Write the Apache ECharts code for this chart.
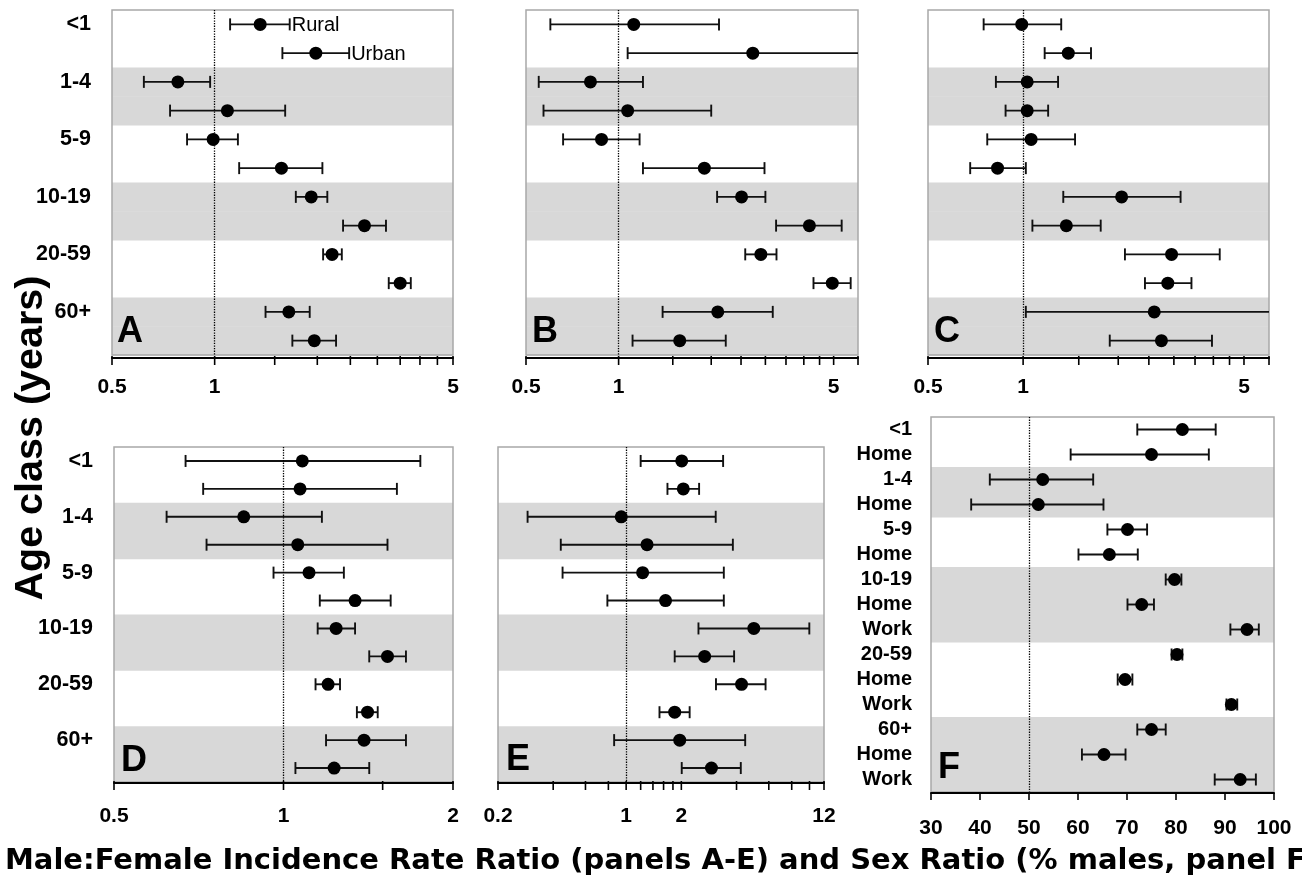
<!DOCTYPE html>
<html>
<head>
<meta charset="utf-8">
<script src="https://cdn.jsdelivr.net/npm/echarts@6/dist/echarts.min.js"></script>
<style>
  html, body { margin: 0; padding: 0; background: #fff; }
  #chart { width: 1302px; height: 883px; }
</style>
</head>
<body>
<div id="chart"></div>
<script>
// ---------------- DATA ----------------
const ageClasses = ['<1', '1-4', '5-9', '10-19', '20-59', '60+'];
const settings = ['Rural', 'Urban'];           // two rows per age class, panels A-E
const rowsF = ['<1', 'Home', '1-4', 'Home', '5-9', 'Home', '10-19', 'Home', 'Work', '20-59', 'Home', 'Work', '60+', 'Home', 'Work'];
const rowsFAge = [0, 0, 1, 1, 2, 2, 3, 3, 3, 4, 4, 4, 5, 5, 5];

// Panel A
const A_est = [1.36, 1.98, 0.78, 1.09, 0.99, 1.57, 1.92, 2.75, 2.21, 3.50, 1.65, 1.96];
const A_lo  = [1.11, 1.58, 0.62, 0.74, 0.83, 1.18, 1.73, 2.38, 2.08, 3.24, 1.41, 1.69];
const A_hi  = [1.66, 2.48, 0.97, 1.61, 1.17, 2.07, 2.14, 3.18, 2.36, 3.76, 1.90, 2.27];
// Panel B
const B_est = [1.12, 2.73, 0.81, 1.07, 0.88, 1.90, 2.51, 4.17, 2.90, 4.95, 2.10, 1.58];
const B_lo  = [0.60, 1.07, 0.55, 0.57, 0.66, 1.20, 2.09, 3.25, 2.58, 4.30, 1.39, 1.11];
const B_hi  = [2.12, 7.00, 1.20, 2.00, 1.17, 2.98, 3.00, 5.31, 3.26, 5.68, 3.17, 2.23];
// Panel C
const C_est = [0.99, 1.39, 1.03, 1.03, 1.06, 0.83, 2.05, 1.37, 2.95, 2.87, 2.60, 2.74];
const C_lo  = [0.75, 1.17, 0.82, 0.88, 0.77, 0.68, 1.34, 1.07, 2.10, 2.43, 1.02, 1.88];
const C_hi  = [1.32, 1.64, 1.29, 1.20, 1.46, 1.02, 3.15, 1.76, 4.19, 3.41, 7.00, 3.96];
// Panel D
const D_est = [1.08, 1.07, 0.85, 1.06, 1.11, 1.34, 1.24, 1.53, 1.20, 1.41, 1.39, 1.23];
const D_lo  = [0.67, 0.72, 0.62, 0.73, 0.96, 1.16, 1.15, 1.42, 1.14, 1.35, 1.19, 1.05];
const D_hi  = [1.75, 1.59, 1.17, 1.53, 1.28, 1.55, 1.34, 1.65, 1.26, 1.47, 1.65, 1.42];
// Panel E
const E_est = [2.01, 2.05, 0.94, 1.30, 1.23, 1.64, 4.97, 2.68, 4.26, 1.84, 1.96, 2.92];
const E_lo  = [1.20, 1.68, 0.29, 0.44, 0.45, 0.79, 2.48, 1.84, 3.09, 1.52, 0.86, 2.01];
const E_hi  = [3.38, 2.50, 3.08, 3.82, 3.41, 3.41, 9.98, 3.88, 5.76, 2.22, 4.46, 4.22];
// Panel F (% males)
const F_est = [81.3, 75.0, 52.8, 51.9, 70.1, 66.4, 79.7, 73.0, 94.5, 80.2, 69.6, 91.3, 75.0, 65.3, 93.1];
const F_lo  = [72.1, 58.5, 42.0, 38.2, 66.0, 60.1, 77.9, 70.1, 91.1, 79.1, 68.1, 90.3, 72.1, 60.8, 87.9];
const F_hi  = [88.1, 86.7, 63.1, 65.2, 74.1, 72.2, 81.1, 75.5, 96.9, 81.3, 71.1, 92.5, 77.9, 69.7, 96.3];

// Axis ticks and tick labels
const ticksA  = [0.5, 1, 1.5, 2, 2.5, 3, 3.5, 4, 4.5, 5];
const labelsA = [0.5, 1, 5];
const ticksBC  = [0.5, 1, 1.5, 2, 2.5, 3, 3.5, 4, 4.5, 5, 6];
const labelsBC = [0.5, 1, 5];
const ticksD  = [0.5, 1, 1.5, 2];
const labelsD = [0.5, 1, 2];
const ticksE  = [0.2, 0.4, 0.6, 0.8, 1, 1.2, 1.4, 1.6, 1.8, 2, 4, 6, 8, 10, 12];
const labelsE = [0.2, 1, 2, 12];

const yTitle = 'Age class (years)';
const xTitle = 'Male:Female Incidence Rate Ratio (panels A-E) and Sex Ratio (% males, panel F)';

// ---------------- LAYOUT ----------------
const FONT = '"Liberation Sans", Arial, Helvetica, sans-serif';
const rowsAE = [];
ageClasses.forEach((a, i) => settings.forEach((s) => rowsAE.push(i)));

const panels = [
  { key: 'A', grid: { left: 112, top: 10, width: 341, height: 345 }, type: 'log', min: 0.5, max: 5,
    est: A_est, lo: A_lo, hi: A_hi, ticks: ticksA, labels: labelsA, rowLabels: true, ref: 1,
    axisOffset: 3, labelDist: 29, letter: [117, 332], rowAge: rowsAE },
  { key: 'B', grid: { left: 526, top: 10, width: 332, height: 345 }, type: 'log', min: 0.5, max: 6,
    est: B_est, lo: B_lo, hi: B_hi, ticks: ticksBC, labels: labelsBC, rowLabels: false, ref: 1,
    axisOffset: 3, labelDist: 29, letter: [532, 332], rowAge: rowsAE },
  { key: 'C', grid: { left: 928, top: 10, width: 341, height: 345 }, type: 'log', min: 0.5, max: 6,
    est: C_est, lo: C_lo, hi: C_hi, ticks: ticksBC, labels: labelsBC, rowLabels: false, ref: 1,
    axisOffset: 3, labelDist: 29, letter: [934, 332], rowAge: rowsAE },
  { key: 'D', grid: { left: 114, top: 447, width: 339, height: 335 }, type: 'log', min: 0.5, max: 2,
    est: D_est, lo: D_lo, hi: D_hi, ticks: ticksD, labels: labelsD, rowLabels: true, ref: 1,
    axisOffset: 1, labelDist: 33, letter: [121, 761], rowAge: rowsAE },
  { key: 'E', grid: { left: 498, top: 447, width: 326, height: 335 }, type: 'log', min: 0.2, max: 12,
    est: E_est, lo: E_lo, hi: E_hi, ticks: ticksE, labels: labelsE, rowLabels: false, ref: 1,
    axisOffset: 1, labelDist: 33, letter: [506, 760], rowAge: rowsAE },
  { key: 'F', grid: { left: 931, top: 417, width: 343, height: 375 }, type: 'value', min: 30, max: 100,
    est: F_est, lo: F_lo, hi: F_hi, rowLabels: true, ref: 50,
    axisOffset: 1, labelDist: 36, letter: [938, 768], rowAge: rowsFAge, rowNames: rowsF }
];

const BAND = '#d8d8d8';
const INK = '#111';

function errRender(params, api) {
  const r = api.value(0);
  const lo = api.coord([api.value(1), r]);
  const hi = api.coord([api.value(2), r]);
  const h = 6;
  const st = { stroke: INK, lineWidth: 1.9 };
  return {
    type: 'group',
    children: [
      { type: 'line', shape: { x1: lo[0], y1: lo[1], x2: hi[0], y2: hi[1] }, style: st },
      { type: 'line', shape: { x1: lo[0], y1: lo[1] - h, x2: lo[0], y2: lo[1] + h }, style: st },
      { type: 'line', shape: { x1: hi[0], y1: hi[1] - h, x2: hi[0], y2: hi[1] + h }, style: st }
    ]
  };
}

const grids = [], xAxes = [], yAxes = [], series = [], graphics = [];

panels.forEach((p, gi) => {
  const nRows = p.rowAge.length;
  const rowIds = p.rowAge.map((_, i) => String(i));
  grids.push(Object.assign({ show: true, borderColor: '#a8a8a8', borderWidth: 1.5, backgroundColor: 'transparent' }, p.grid));

  const xa = {
    type: p.type, gridIndex: gi, min: p.min, max: p.max, offset: p.axisOffset,
    axisLine: { show: true, onZero: false, lineStyle: { color: '#000', width: 2 } },
    splitLine: { show: false }
  };
  if (p.type === 'log') {
    xa.logBase = 10;
    xa.axisTick = { show: false };
    xa.axisLabel = { show: false };
  } else {
    xa.interval = 10;
    xa.axisTick = { show: true, length: 7, lineStyle: { color: '#000', width: 1.6 } };
    xa.axisLabel = { show: true, fontFamily: FONT, fontWeight: 'bold', fontSize: 21, color: '#000', margin: 25 };
  }
  xAxes.push(xa);

  yAxes.push({
    type: 'category', gridIndex: gi, inverse: true, data: rowIds, boundaryGap: true,
    axisLine: { show: false }, axisTick: { show: false }, splitLine: { show: false },
    axisLabel: {
      show: p.rowLabels, interval: 0, fontFamily: FONT, fontWeight: 'bold',
      fontSize: p.key === 'F' ? 20 : 21.5, color: '#000',
      margin: p.key === 'F' ? 19 : 21,
      formatter: function (v, idx) {
        if (p.rowNames) return p.rowNames[idx];
        return idx % 2 === 0 ? ageClasses[p.rowAge[idx]] : '';
      }
    }
  });

  // shaded bands (alternate age classes)
  series.push({
    type: 'custom', xAxisIndex: gi, yAxisIndex: gi, z: -1, silent: true,
    data: p.rowAge.map((a, i) => [p.min, i]),
    encode: { x: 0, y: 1 },
    renderItem: function (params, api) {
      const i = api.value(1);
      if (p.rowAge[i] % 2 === 0) return null;
      const cs = params.coordSys;
      const hgt = cs.height / nRows;
      const yc = api.coord([p.min, i])[1];
      return { type: 'rect', shape: { x: cs.x, y: yc - hgt / 2, width: cs.width, height: hgt + 0.5 },
               style: { fill: BAND } };
    }
  });

  // error bars
  series.push({
    type: 'custom', xAxisIndex: gi, yAxisIndex: gi, clip: true, silent: true, z: 3,
    data: p.est.map((_, i) => [i, p.lo[i], p.hi[i]]),
    encode: { y: 0, x: [1, 2] },
    renderItem: errRender
  });

  // point estimates + reference line
  series.push({
    type: 'scatter', xAxisIndex: gi, yAxisIndex: gi, symbol: 'circle', symbolSize: 13, z: 4,
    itemStyle: { color: '#000', opacity: 1 }, silent: true,
    data: p.est.map((v, i) => [v, i]),
    markLine: {
      silent: true, symbol: 'none', label: { show: false }, animation: false,
      lineStyle: { color: '#000', type: 'dotted', width: 1.3 },
      data: [{ xAxis: p.ref }]
    }
  });

  // custom log-axis ticks and labels
  if (p.type === 'log') {
    series.push({
      type: 'custom', xAxisIndex: gi, yAxisIndex: gi, silent: true, z: 5,
      data: p.ticks.map((t) => [t, 0]), encode: { x: 0, y: 1 },
      renderItem: function (params, api) {
        const cs = params.coordSys;
        const x = api.coord([api.value(0), 0])[0];
        const y0 = cs.y + cs.height + p.axisOffset;
        return { type: 'line', shape: { x1: x, y1: y0 - 2, x2: x, y2: y0 + 7 }, style: { stroke: '#000', lineWidth: 1.6 } };
      }
    });
    series.push({
      type: 'custom', xAxisIndex: gi, yAxisIndex: gi, silent: true, z: 5,
      data: p.labels.map((t) => [t, 0]), encode: { x: 0, y: 1 },
      renderItem: function (params, api) {
        const cs = params.coordSys;
        const v = api.value(0);
        const x = api.coord([v, 0])[0];
        const y0 = cs.y + cs.height + p.axisOffset;
        return { type: 'text', x: x, y: y0 + p.labelDist,
                 style: { text: String(p.labels[params.dataIndex]), fill: '#000', align: 'center', verticalAlign: 'middle',
                          font: 'bold 21px ' + FONT } };
      }
    });
  }

  // Rural / Urban annotation in panel A
  if (p.key === 'A') {
    series.push({
      type: 'custom', xAxisIndex: gi, yAxisIndex: gi, silent: true, z: 5,
      data: settings.map((s, i) => [p.hi[i], i]), encode: { x: 0, y: 1 },
      renderItem: function (params, api) {
        const pt = api.coord([api.value(0), api.value(1)]);
        return { type: 'text', x: pt[0] + 2, y: pt[1] + 1,
                 style: { text: settings[params.dataIndex], fill: '#000', align: 'left', verticalAlign: 'middle',
                          font: '20px ' + FONT } };
      }
    });
  }

  // panel letter
  graphics.push({
    type: 'text', x: p.letter[0], y: p.letter[1], z: 10,
    style: { text: p.key, fill: '#000', font: 'bold 36px ' + FONT, align: 'left', verticalAlign: 'middle' }
  });
});

graphics.push({
  type: 'text', x: 31, y: 438, rotation: Math.PI / 2, z: 10,
  style: { text: yTitle, fill: '#000', font: 'bold 39.5px ' + FONT, align: 'center', verticalAlign: 'middle' }
});
graphics.push({
  type: 'text', x: 5, y: 861, z: 10,
  style: { text: xTitle, fill: '#000', font: 'bold 29px "DejaVu Sans"', align: 'left', verticalAlign: 'middle' }
});

const chart = echarts.init(document.getElementById('chart'), null, { renderer: 'canvas' });
chart.setOption({
  backgroundColor: '#fff',
  animation: false,
  grid: grids,
  xAxis: xAxes,
  yAxis: yAxes,
  series: series,
  graphic: graphics
});
</script>
</body>
</html>
